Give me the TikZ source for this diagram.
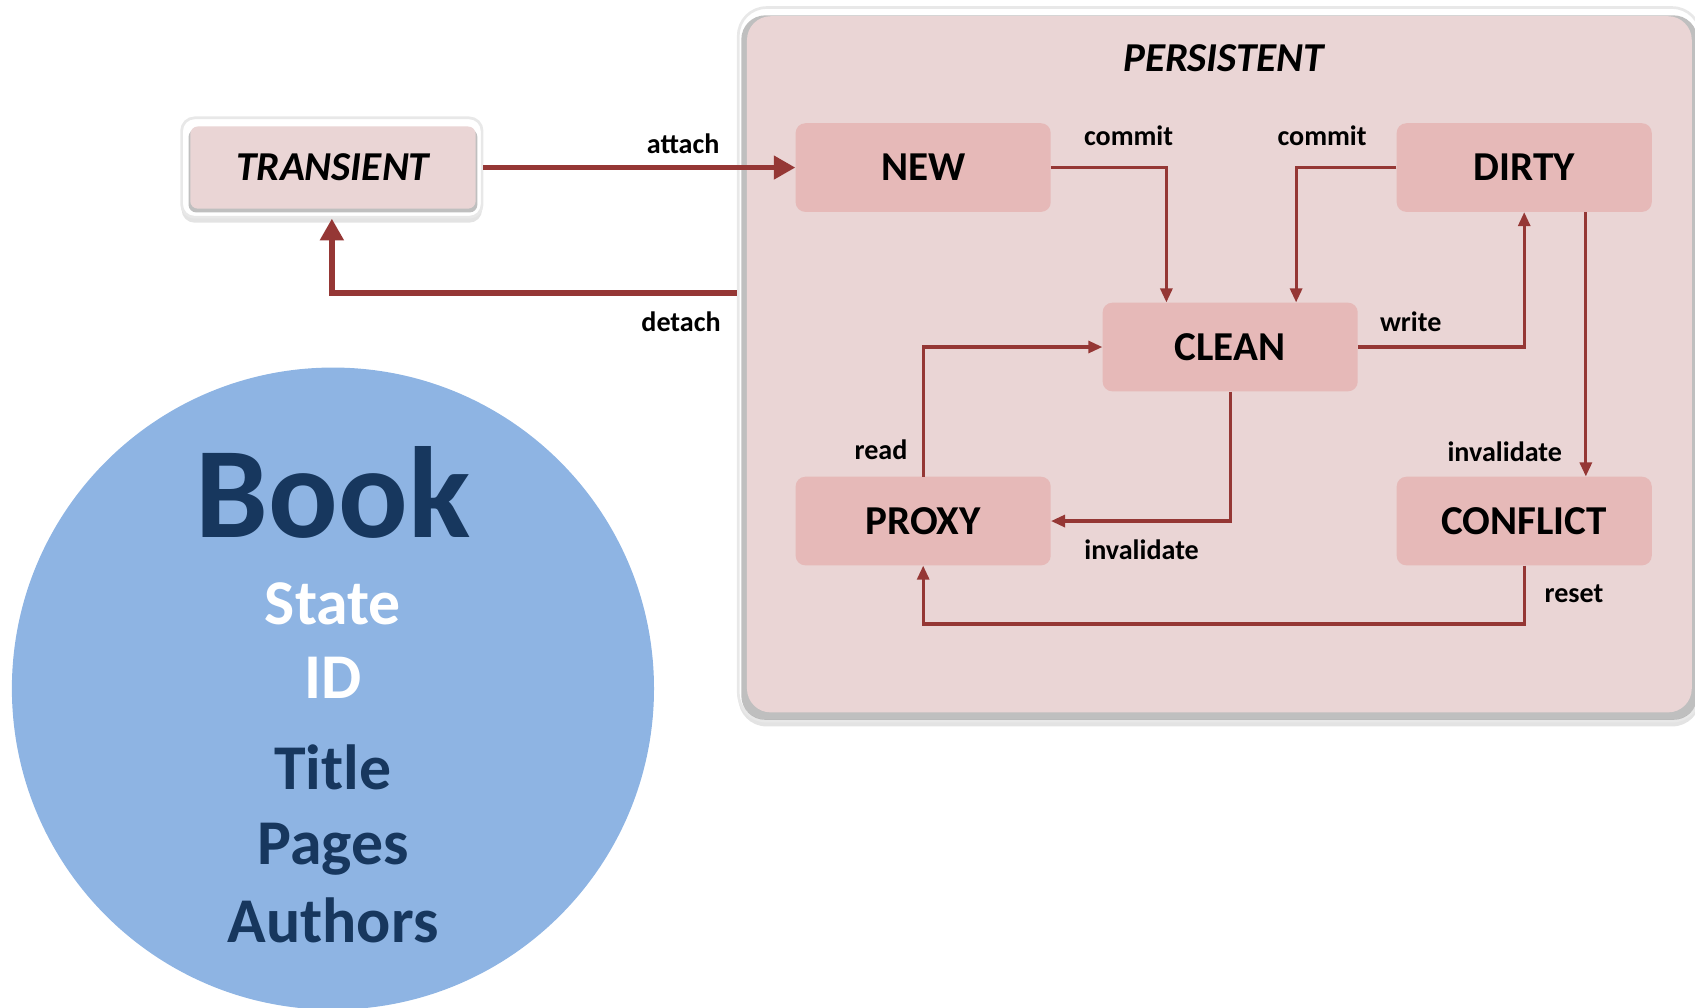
\documentclass[tikz,border=0pt]{standalone}
\usepackage{fontspec}
\setmainfont{Carlito}
\usetikzlibrary{arrows.meta,shadows}
\definecolor{arr}{HTML}{953735}
\definecolor{boxfill}{HTML}{E6B9B8}
\definecolor{perfill}{HTML}{EAD5D5}
\definecolor{bookblue}{HTML}{8EB4E3}
\definecolor{darkblue}{HTML}{17375E}
\newcommand{\myfs}[1]{\fontsize{#1}{#1}\selectfont}
\tikzset{
 state/.style={rectangle, rounded corners=9pt, fill=boxfill, minimum width=236pt, minimum height=82pt, inner sep=0pt, font=\bfseries\myfs{38}},
 flow/.style={draw=arr, line width=3pt, -{Triangle[width=11pt,length=13pt]}},
 bigflow/.style={draw=arr, line width=5pt, -{Triangle[width=21pt,length=20pt]}},
 lbl/.style={font=\bfseries\myfs{26}, inner sep=0pt},
 booktxt/.style={font=\bfseries\myfs{59}, inner sep=0pt, anchor=base},
 outerbox/.style={rectangle, fill=white, draw=black!9, line width=2.5pt, drop shadow={opacity=0.22, shadow xshift=0pt, shadow yshift=-5pt}},
 innerbox/.style={rectangle, fill=perfill, drop shadow={opacity=0.45, shadow xshift=0pt, shadow yshift=-3pt, shadow scale=1.012, fill=black!55}},
}
\begin{document}
\begin{tikzpicture}[x=1pt,y=-1pt]
\useasboundingbox (0,0) rectangle (1568,932);
% persistent container
\node[outerbox, rounded corners=26pt, minimum width=890pt, minimum height=660pt] (pers) at (1128,337) {};
\node[innerbox, rounded corners=22pt, minimum width=874pt, minimum height=644pt] (persin) at (1128,337) {};
\node[font=\bfseries\itshape\myfs{38}] (ptitle) at (1132,54) {PERSISTENT};
% transient
\node[outerbox, rounded corners=12pt, minimum width=278pt, minimum height=92pt] (tout) at (307,155) {};
\node[innerbox, rounded corners=7pt, minimum width=264pt, minimum height=76pt, font=\bfseries\itshape\myfs{38}] (transient) at (308,155) {TRANSIENT};
% states
\node[state] (new) at (854,155) {NEW};
\node[state] (dirty) at (1410,155) {DIRTY};
\node[state] (clean) at (1138,321) {CLEAN};
\node[state] (proxy) at (854,482) {PROXY};
\node[state] (conflict) at (1410,482) {CONFLICT};
% transitions
\draw[bigflow] (tout.east) -- (new.west);
\draw[bigflow] (pers.west |- 0,271) -| (tout.south);
\draw[flow] (new.east) -| ([xshift=-59pt]clean.north);
\draw[flow] (dirty.west) -| ([xshift=61pt]clean.north);
\draw[flow] (clean.east) -| (dirty.south);
\draw[flow] ([xshift=57pt]dirty.south) -- ([xshift=57pt]conflict.north);
\draw[flow] (clean.south) |- (proxy.east);
\draw[flow] (proxy.north) |- (clean.west);
\draw[flow] (conflict.south) -- ++(0,54) -| (proxy.south);
% labels
\node[lbl] (lattach) at (632,133) {attach};
\node[lbl] (ldetach) at (630,298) {detach};
\node[lbl] (lcommit1) at (1044,126) {commit};
\node[lbl] (lcommit2) at (1223,126) {commit};
\node[lbl] (lwrite) at (1305,298) {write};
\node[lbl] (linv1) at (1392,418) {invalidate};
\node[lbl] (linv2) at (1056,509) {invalidate};
\node[lbl] (lread) at (815,416) {read};
\node[lbl] (lreset) at (1456,549) {reset};
% book circle
\node[circle, fill=bookblue, minimum size=594pt, inner sep=0pt] (book) at (308,637) {};
\node[booktxt, font=\bfseries\myfs{120}, text=darkblue] (tbook) at (308,497) {Book};
\node[booktxt, text=white] (tstate) at (308,578) {State};
\node[booktxt, text=white] (tid) at (308,646) {ID};
\node[booktxt, text=darkblue] (ttitle) at (308,730) {Title};
\node[booktxt, text=darkblue] (tpages) at (308,800) {Pages};
\node[booktxt, text=darkblue] (tauthors) at (308,872) {Authors};
\end{tikzpicture}
\end{document}
